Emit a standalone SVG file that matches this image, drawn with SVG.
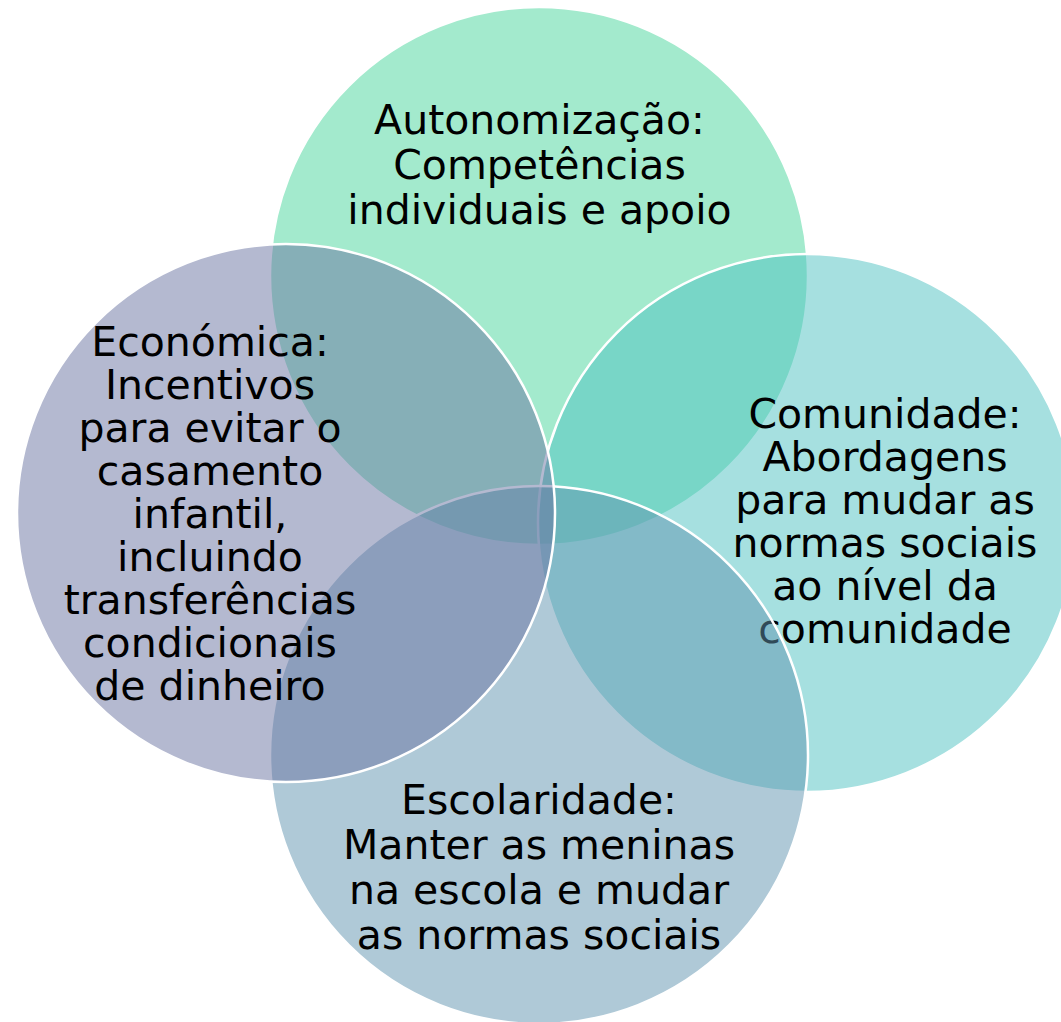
<svg xmlns="http://www.w3.org/2000/svg" width="1061" height="1022" viewBox="0 0 1061 1022">
<style>
.c{stroke:#ffffff;stroke-width:2.5;fill-opacity:0.5}
.t{font-family:"DejaVu Sans","Liberation Sans",sans-serif;font-size:41px;text-anchor:middle;fill:#000000}
</style>
<rect x="0" y="0" width="1061" height="1022" fill="#ffffff"/>
<g id="autonomizacao">
<circle class="c" cx="539" cy="276" r="269" fill="#47d59b"/>
<text class="t"><tspan x="539.5" y="134">Autonomização:</tspan><tspan x="539.5" y="179">Competências</tspan><tspan x="539.5" y="224">individuais e apoio</tspan></text>
</g>
<g id="comunidade">
<circle class="c" cx="807" cy="523" r="269" fill="#4dc1c1"/>
<text class="t"><tspan x="885" y="428">Comunidade:</tspan><tspan x="885" y="471">Abordagens</tspan><tspan x="885" y="514">para mudar as</tspan><tspan x="885" y="557">normas sociais</tspan><tspan x="885" y="600">ao nível da</tspan><tspan x="885" y="643">comunidade</tspan></text>
</g>
<g id="escolaridade">
<circle class="c" cx="539" cy="755" r="269" fill="#5f93af"/>
<text class="t"><tspan x="539" y="814">Escolaridade:</tspan><tspan x="539" y="859">Manter as meninas</tspan><tspan x="539" y="904">na escola e mudar</tspan><tspan x="539" y="949">as normas sociais</tspan></text>
</g>
<g id="economica">
<circle class="c" cx="286" cy="513" r="269" fill="#6973a1"/>
<text class="t"><tspan x="210" y="356">Económica:</tspan><tspan x="210" y="399">Incentivos</tspan><tspan x="210" y="442">para evitar o</tspan><tspan x="210" y="485">casamento</tspan><tspan x="210" y="528">infantil,</tspan><tspan x="210" y="571">incluindo</tspan><tspan x="210" y="614">transferências</tspan><tspan x="210" y="657">condicionais</tspan><tspan x="210" y="700">de dinheiro</tspan></text>
</g>
</svg>
